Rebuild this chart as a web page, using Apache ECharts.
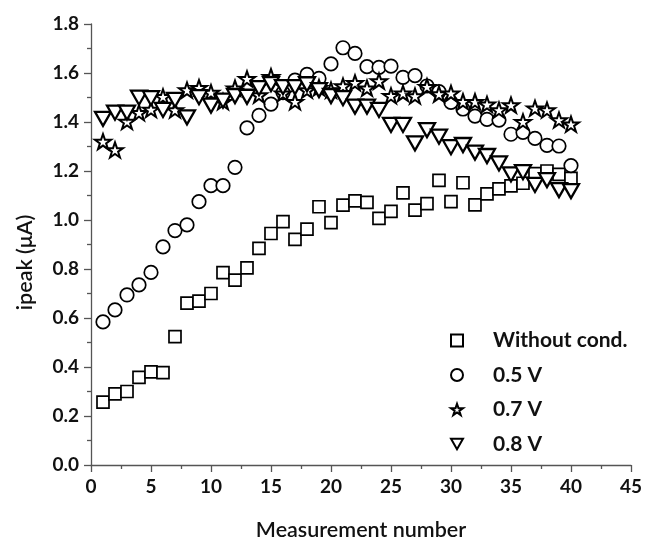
<!DOCTYPE html>
<html><head><meta charset="utf-8">
<script src="https://cdn.jsdelivr.net/npm/echarts@6/dist/echarts.min.js"></script>
<style>html,body{margin:0;padding:0;background:#fff}#c{width:645px;height:546px}</style>
</head><body><div id="c"></div>
<script>
const measurement = [1,2,3,4,5,6,7,8,9,10,11,12,13,14,15,16,17,18,19,20,21,22,23,24,25,26,27,28,29,30,31,32,33,34,35,36,37,38,39,40];
const withoutCond = [0.257,0.29,0.30,0.358,0.38,0.377,0.524,0.661,0.669,0.70,0.785,0.755,0.805,0.884,0.945,0.993,0.921,0.963,1.054,0.989,1.061,1.078,1.072,1.007,1.035,1.111,1.04,1.067,1.162,1.075,1.152,1.062,1.107,1.127,1.139,1.15,1.189,1.2,1.186,1.17];
const v05 = [0.584,0.633,0.694,0.735,0.786,0.89,0.957,0.98,1.075,1.14,1.14,1.215,1.376,1.427,1.473,1.52,1.571,1.594,1.578,1.637,1.703,1.68,1.626,1.623,1.628,1.582,1.589,1.547,1.524,1.48,1.453,1.424,1.411,1.408,1.35,1.358,1.333,1.305,1.302,1.222];
const v07 = [1.32,1.286,1.402,1.438,1.451,1.503,1.449,1.53,1.54,1.52,1.483,1.538,1.576,1.51,1.585,1.517,1.483,1.53,1.54,1.53,1.547,1.56,1.538,1.567,1.507,1.517,1.506,1.544,1.514,1.517,1.483,1.483,1.472,1.449,1.469,1.401,1.456,1.449,1.408,1.391];
const v08 = [1.413,1.438,1.438,1.499,1.497,1.449,1.49,1.419,1.501,1.467,1.487,1.506,1.503,1.538,1.555,1.542,1.542,1.554,1.53,1.506,1.497,1.463,1.463,1.449,1.388,1.388,1.313,1.367,1.34,1.297,1.306,1.275,1.261,1.231,1.186,1.195,1.143,1.163,1.122,1.118];
const seriesNames = ['Without cond.','0.5 V','0.7 V','0.8 V'];

const STAR = 'path://M50,2 L61.8,36.2 L97.6,36.2 L68.6,57.4 L79.6,91.6 L50,70.6 L20.4,91.6 L31.4,57.4 L2.4,36.2 L38.2,36.2 Z';
const TRI_DOWN = 'path://M0,0 L100,0 L50,88 Z';
const FONT = 'Lato';
const pairs = ys => measurement.map((x,i)=>[x, ys[i]]);

function sc(name, ys, symbol, size, bw){
  return {type:'scatter', name, data: pairs(ys), symbol, symbolSize:size, symbolKeepAspect:true,
    itemStyle:{color:'#fff', borderColor:'#000', borderWidth:bw, opacity:1},
    emphasis:{disabled:true}};
}

const chart = echarts.init(document.getElementById('c'), null, {renderer:'canvas'});
chart.setOption({
  animation:false,
  backgroundColor:'#fff',
  grid:{left:91, right:12.5, top:24, bottom:81, containLabel:false},
  legend:{
    orient:'vertical', left:445, top:325, itemWidth:12, itemHeight:12, itemGap:13.5,
    selectedMode:false,
    data: seriesNames,
    textStyle:{fontFamily:FONT, fontWeight:'bold', fontSize:21, color:'#111', padding:[0,0,0,25]}
  },
  xAxis:{
    type:'value', min:0, max:45, interval:5,
    name:'Measurement number', nameLocation:'middle', nameGap:54,
    nameTextStyle:{fontFamily:FONT, fontSize:21.5, fontWeight:600, color:'#111'},
    axisLine:{onZero:false, lineStyle:{color:'#555', width:1.3}},
    axisTick:{length:7, lineStyle:{color:'#555', width:1.3}},
    minorTick:{show:true, splitNumber:2, length:4, lineStyle:{color:'#555', width:1.3}},
    splitLine:{show:false},
    axisLabel:{fontFamily:FONT, fontWeight:'bold', fontSize:19, color:'#111', margin:12}
  },
  yAxis:{
    type:'value', min:0, max:1.8, interval:0.2,
    name:'ipeak (μA)', nameLocation:'middle', nameGap:55,
    nameTextStyle:{fontFamily:FONT, fontSize:21.5, fontWeight:600, color:'#111', padding:[0,36,0,0]},
    axisLine:{show:true, onZero:false, lineStyle:{color:'#555', width:1.3}},
    axisTick:{show:true, length:7, lineStyle:{color:'#555', width:1.3}},
    minorTick:{show:true, splitNumber:2, length:4, lineStyle:{color:'#555', width:1.3}},
    splitLine:{show:false},
    axisLabel:{fontFamily:FONT, fontWeight:'bold', fontSize:19, color:'#111', margin:12,
      formatter: v => v.toFixed(1)}
  },
  series:[
    sc(seriesNames[0], withoutCond, 'rect', 12, 1.7),
    sc(seriesNames[1], v05, 'circle', 13.5, 1.7),
    sc(seriesNames[2], v07, STAR, 16, 2),
    sc(seriesNames[3], v08, TRI_DOWN, 16, 2.3)
  ]
});
</script></body></html>
